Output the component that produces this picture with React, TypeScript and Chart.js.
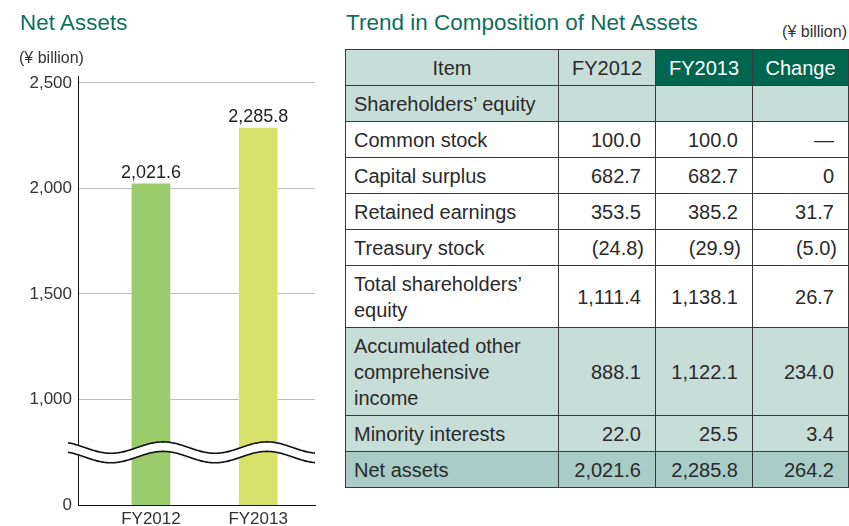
import React, { useEffect, useRef } from "react";
import { Chart, registerables } from "chart.js";

Chart.register(...registerables);

// ---------- data ----------
const CATEGORIES = ["FY2012", "FY2013"];
const NET_ASSETS = [2021.6, 2285.8];
const BAR_COLORS = ["#9ccb6b", "#d8e169"];
// The axis is broken: the visual origin (labelled "0") sits at 500 on the drawn scale.
const AXIS_ORIGIN = 500;
const AXIS_ORIGIN_LABEL = "0";
const Y_TICKS = [500, 1000, 1500, 2000, 2500];
const Y_MAX = 2533;
const BREAK_VALUE = 772;

const TABLE_HEADERS = ["Item", "FY2012", "FY2013", "Change"];
const ITEMS = [
  "Shareholders’ equity",
  "Common stock",
  "Capital surplus",
  "Retained earnings",
  "Treasury stock",
  "Total shareholders’\nequity",
  "Accumulated other\ncomprehensive\nincome",
  "Minority interests",
  "Net assets",
];
const FY2012_VALUES = ["", "100.0", "682.7", "353.5", "(24.8)", "1,111.4", "888.1", "22.0", "2,021.6"];
const FY2013_VALUES = ["", "100.0", "682.7", "385.2", "(29.9)", "1,138.1", "1,122.1", "25.5", "2,285.8"];
const CHANGE_VALUES = ["", "—", "0", "31.7", "(5.0)", "26.7", "234.0", "3.4", "264.2"];

// ---------- styles ----------
const FONT = '"Liberation Sans", Arial, Helvetica, sans-serif';
const TEAL_TEXT = "#0f6f5e";
const LIGHT = "#c6ddd8";
const DARK = "#00664f";
const NET = "#a9ccc6";
const ROW_FILLS = [LIGHT, "#ffffff", "#ffffff", "#ffffff", "#ffffff", "#ffffff", LIGHT, LIGHT, NET];
const HEADER_FILLS = [LIGHT, LIGHT, DARK, DARK];
const HEADER_TEXT = ["#2a2a2a", "#2a2a2a", "#ffffff", "#ffffff"];
const BORDER = "1px solid #3a3a3a";

const fmt = (v: number, d = 1) =>
  v.toLocaleString("en-US", { minimumFractionDigits: d, maximumFractionDigits: d });

const valueLabels = {
  id: "valueLabels",
  afterDatasetsDraw(chart: any) {
    const ctx = chart.ctx;
    const meta = chart.getDatasetMeta(0);
    ctx.save();
    ctx.font = `18px ${FONT}`;
    ctx.fillStyle = "#222";
    ctx.textAlign = "center";
    ctx.textBaseline = "alphabetic";
    meta.data.forEach((el: any, i: number) => {
      ctx.fillText(fmt(NET_ASSETS[i]), el.x, el.y - 6);
    });
    ctx.restore();
  },
};

const axisBreak = {
  id: "axisBreak",
  afterDraw(chart: any) {
    const { ctx, chartArea, scales } = chart;
    const yc = scales.y.getPixelForValue(BREAK_VALUE);
    const amp = 5.7;
    const period = 104;
    const gap = 9.5;
    const x0 = chartArea.left - 10;
    const x1 = chartArea.right;
    const phase = chartArea.left + 85;
    const f = (x: number) => yc - amp * Math.cos((2 * Math.PI * (x - phase)) / period);
    ctx.save();
    ctx.beginPath();
    for (let x = x0; x <= x1; x += 1) {
      if (x === x0) ctx.moveTo(x, f(x));
      else ctx.lineTo(x, f(x));
    }
    for (let x = x1; x >= x0; x -= 1) ctx.lineTo(x, f(x) + gap);
    ctx.closePath();
    ctx.fillStyle = "#ffffff";
    ctx.fill();
    ctx.strokeStyle = "#111";
    ctx.lineWidth = 1.6;
    for (const off of [0, gap]) {
      ctx.beginPath();
      for (let x = x0; x <= x1; x += 1) {
        if (x === x0) ctx.moveTo(x, f(x) + off);
        else ctx.lineTo(x, f(x) + off);
      }
      ctx.stroke();
    }
    ctx.restore();
  },
};

function NetAssetsChart() {
  const ref = useRef<HTMLCanvasElement | null>(null);
  useEffect(() => {
    if (!ref.current) return;
    const chart = new Chart(ref.current, {
      type: "bar",
      data: {
        datasets: [
          {
            data: CATEGORIES.map((c, i) => ({ x: i, y: NET_ASSETS[i] })),
            backgroundColor: BAR_COLORS,
            barThickness: 38,
            borderWidth: 0,
          },
        ],
      },
      options: {
        animation: false,
        responsive: false,
        maintainAspectRatio: false,
        devicePixelRatio: 1,
        layout: { padding: { top: 76, left: 0, right: 25, bottom: 0 } },
        plugins: { legend: { display: false }, tooltip: { enabled: false } },
        scales: {
          x: {
            type: "linear",
            offset: false,
            min: -0.68,
            max: 1.53,
            afterBuildTicks: (s: any) => {
              s.ticks = CATEGORIES.map((_, i) => ({ value: i }));
            },
            afterFit: (s: any) => {
              s.height = 21;
            },
            grid: { display: false, drawTicks: false, offset: false },
            border: { color: "#111", width: 1 },
            ticks: {
              padding: 4,
              color: "#333",
              font: { family: FONT, size: 17 },
              callback: (v: any) => CATEGORIES[v] ?? "",
            },
          },
          y: {
            type: "linear",
            min: AXIS_ORIGIN,
            max: Y_MAX,
            afterBuildTicks: (s: any) => {
              s.ticks = Y_TICKS.map((v) => ({ value: v }));
            },
            afterFit: (s: any) => {
              s.width = 78;
            },
            grid: {
              drawTicks: false,
              color: (c: any) => (c.tick && c.tick.value === AXIS_ORIGIN ? "rgba(0,0,0,0)" : "#bdbdbd"),
              lineWidth: 1,
            },
            border: { color: "#111", width: 1 },
            ticks: {
              padding: 6,
              color: "#333",
              font: { family: FONT, size: 17 },
              callback: (v: any) => (v === AXIS_ORIGIN ? AXIS_ORIGIN_LABEL : fmt(v, 0)),
            },
          },
        },
      },
      plugins: [valueLabels, axisBreak],
    } as any);
    return () => chart.destroy();
  }, []);
  return (
    <canvas
      ref={ref}
      width={340}
      height={526}
      style={{ position: "absolute", left: 0, top: 0, width: 340, height: 526 }}
    />
  );
}

function renderValue(v: string) {
  if (v.startsWith("(")) return <span style={{ marginRight: -3 }}>{v}</span>;
  return v;
}

export default function App() {
  const cellBase: React.CSSProperties = {
    border: BORDER,
    padding: "5px 14px 4px 8px",
    verticalAlign: "middle",
  };
  return (
    <div
      style={{
        position: "absolute",
        left: 0,
        top: 0,
        width: 849,
        height: 526,
        background: "#fff",
        overflow: "hidden",
        fontFamily: FONT,
      }}
    >
      <NetAssetsChart />
      <div style={{ position: "absolute", left: 20, top: 12, fontSize: 22.5, lineHeight: "22px", color: TEAL_TEXT, whiteSpace: "nowrap" }}>
        Net Assets
      </div>
      <div style={{ position: "absolute", left: 19, top: 50, fontSize: 16, lineHeight: "16px", color: "#333", whiteSpace: "nowrap" }}>
        (¥ billion)
      </div>
      <div style={{ position: "absolute", left: 346, top: 12, fontSize: 22.5, lineHeight: "22px", color: TEAL_TEXT, whiteSpace: "nowrap" }}>
        Trend in Composition of Net Assets
      </div>
      <div style={{ position: "absolute", right: 2, top: 24, fontSize: 16, lineHeight: "16px", color: "#333", whiteSpace: "nowrap" }}>
        (¥ billion)
      </div>
      <table
        style={{
          position: "absolute",
          left: 345,
          top: 49,
          width: 503,
          borderCollapse: "collapse",
          tableLayout: "fixed",
          fontSize: 20,
          lineHeight: "26px",
          color: "#2a2a2a",
        }}
      >
        <colgroup>
          <col style={{ width: 213 }} />
          <col style={{ width: 97 }} />
          <col style={{ width: 97 }} />
          <col style={{ width: 96 }} />
        </colgroup>
        <thead>
          <tr>
            {TABLE_HEADERS.map((h, i) => (
              <th
                key={h}
                style={{
                  ...cellBase,
                  padding: "5px 4px 4px 4px",
                  fontWeight: "normal",
                  textAlign: "center",
                  background: HEADER_FILLS[i],
                  color: HEADER_TEXT[i],
                }}
              >
                {h}
              </th>
            ))}
          </tr>
        </thead>
        <tbody>
          {ITEMS.map((item, r) => (
            <tr key={item} style={{ background: ROW_FILLS[r] }}>
              <td style={{ ...cellBase, whiteSpace: "pre-line", textAlign: "left" }}>{item}</td>
              <td style={{ ...cellBase, textAlign: "right" }}>{renderValue(FY2012_VALUES[r])}</td>
              <td style={{ ...cellBase, textAlign: "right" }}>{renderValue(FY2013_VALUES[r])}</td>
              <td style={{ ...cellBase, textAlign: "right" }}>{renderValue(CHANGE_VALUES[r])}</td>
            </tr>
          ))}
        </tbody>
      </table>
    </div>
  );
}
